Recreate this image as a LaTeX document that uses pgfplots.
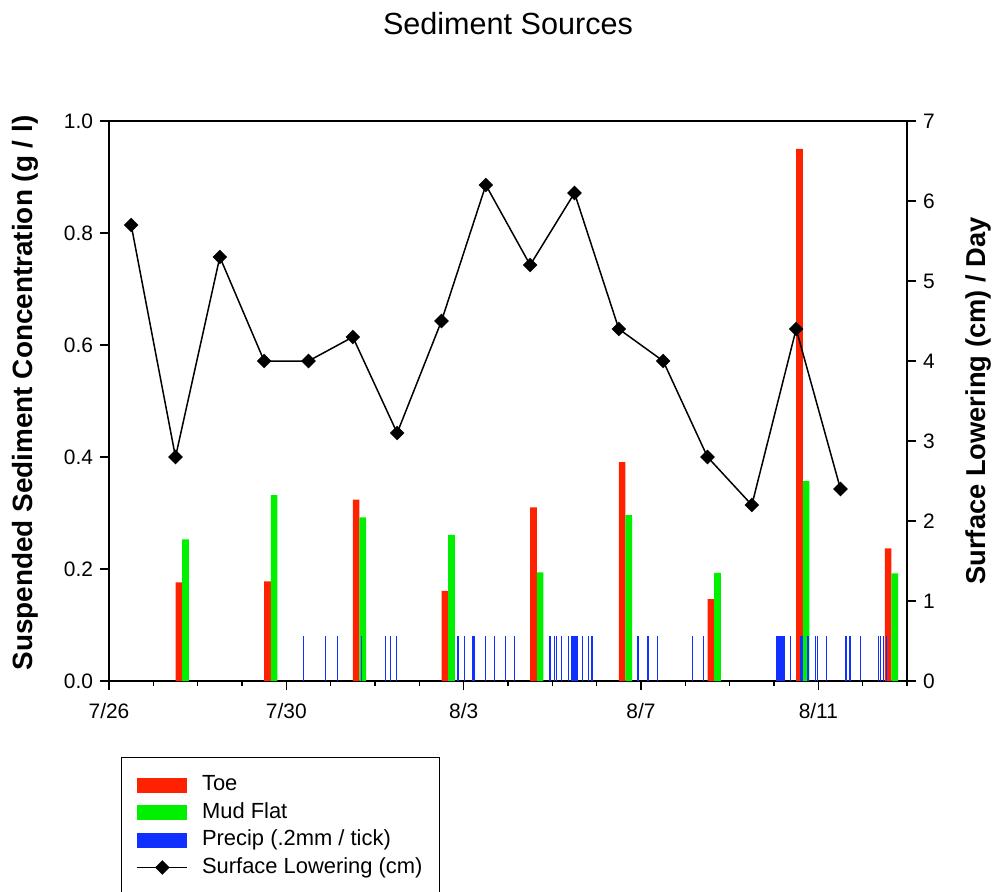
\documentclass[border=0pt]{standalone}
\usepackage{pgfplots}
\pgfplotsset{compat=1.18}
\usepackage{fontspec}
\setmainfont{Liberation Sans}
\definecolor{toered}{RGB}{255,34,0}
\definecolor{mudgreen}{RGB}{0,240,0}
\definecolor{precipblue}{RGB}{16,48,255}
\pgfplotsset{
  common/.style={
    at={(0,0)}, anchor=south west,
    scale only axis, width=399bp, height=280bp,
    xmin=0, xmax=18,
    tick align=outside,
    major tick length=4.5bp, minor tick length=2.7bp,
    every tick/.style={black, line width=0.7bp},
    axis line style={line width=0.8bp},
    /pgf/number format/assume math mode=true,
    tick label style={font=\fontsize{10.5}{12}\selectfont},
  },
  barleg/.style={legend image code/.code={\fill[##1, draw=none] (0bp,-3.75bp) rectangle (25bp,3.75bp);}},
  lineleg/.style={legend image code/.code={\draw[mark repeat=2,mark phase=2,##1] plot coordinates {(0bp,0bp) (12.5bp,0bp) (25bp,0bp)};}},
}
\begin{document}
\begin{tikzpicture}
\useasboundingbox (-54.5bp,-105.5bp) rectangle (442bp,340.5bp);
\begin{axis}[
  common,
  ymin=0, ymax=1,
  xtick={0,4,8,12,16},
  xticklabels={7/26,7/30,8/3,8/7,8/11},
  xticklabel style={yshift=-3bp},
  minor xtick={1,2,3,5,6,7,9,10,11,13,14,15,17,18},
  xtick pos=bottom, ytick pos=left,
  ytick={0,0.2,0.4,0.6,0.8,1.0},
  yticklabel style={/pgf/number format/.cd, fixed, fixed zerofill, precision=1},
  title={Sediment Sources},
  title style={at={(axis description cs:0.5,1)}, yshift=42.5bp, anchor=center, font=\fontsize{15.35}{18}\selectfont},
  ylabel={Suspended Sediment Concentration (g / l)},
  every axis y label/.style={at={([xshift=-42bp,yshift=4bp]axis description cs:0,0.5)}, rotate=90, anchor=center, font=\bfseries\fontsize{14}{16}\selectfont},
]
% Toe
\addplot[ybar, bar width=0.15, bar shift=0pt, fill=toered, draw=none] coordinates {
(1.575,0.176) (3.575,0.178) (5.575,0.324) (7.575,0.161) (9.575,0.310)
(11.575,0.391) (13.575,0.146) (15.575,0.950) (17.575,0.237)};
% Mud Flat
\addplot[ybar, bar width=0.15, bar shift=0pt, fill=mudgreen, draw=none] coordinates {
(1.725,0.253) (3.725,0.332) (5.725,0.292) (7.725,0.261) (9.725,0.194)
(11.725,0.296) (13.725,0.193) (15.725,0.357) (17.725,0.192)};
% Precip (.2mm / tick)
\addplot[ycomb, precipblue, line width=0.6bp, no markers] coordinates {
(4.392,0.08) (4.887,0.08) (5.158,0.08) (5.698,0.08) (6.239,0.08) (6.351,0.08) (6.480,0.08)
(7.872,0.08) (8.025,0.08) (8.209,0.08) (8.232,0.08) (8.491,0.08) (8.694,0.08) (8.948,0.08) (9.144,0.08)
(9.948,0.08) (10.045,0.08) (10.090,0.08) (10.203,0.08) (10.367,0.08) (10.444,0.08) (10.473,0.08)
(10.502,0.08) (10.534,0.08) (10.563,0.08) (10.682,0.08) (10.818,0.08) (10.894,0.08)
(11.930,0.08) (12.146,0.08) (12.162,0.08) (12.372,0.08)
(13.160,0.08) (13.417,0.08)
(15.056,0.08) (15.083,0.08) (15.113,0.08) (15.142,0.08) (15.169,0.08) (15.198,0.08) (15.225,0.08) (15.367,0.08)
(15.608,0.08) (15.638,0.08) (15.755,0.08) (15.773,0.08)
(15.939,0.08) (15.980,0.08) (16.178,0.08)
(16.622,0.08) (16.716,0.08) (16.959,0.08)
(17.365,0.08) (17.399,0.08) (17.471,0.08) (17.545,0.08)};
\end{axis}
\begin{axis}[
  common,
  ymin=0, ymax=7,
  axis x line=none, axis y line*=right,
  ytick={0,1,2,3,4,5,6,7},
  ylabel={Surface Lowering (cm) / Day},
  every axis y label/.style={at={([xshift=35.5bp]axis description cs:1,0.5)}, rotate=90, anchor=center, font=\bfseries\fontsize{13.7}{16}\selectfont},
  legend style={at={(axis description cs:0.015,-0.1357)}, anchor=north west,
    draw=black, line width=0.6bp, inner xsep=7.5bp, inner ysep=7bp,
    font=\fontsize{11}{13}\selectfont,
    nodes={inner xsep=1bp, inner ysep=1.5bp, text height=8.2bp, text depth=2.5bp},
    /tikz/every odd column/.style={column sep=6bp}},
  legend cell align=left,
]
\addlegendimage{barleg, fill=toered}
\addlegendentry{Toe}
\addlegendimage{barleg, fill=mudgreen}
\addlegendentry{Mud Flat}
\addlegendimage{barleg, fill=precipblue}
\addlegendentry{Precip (.2mm / tick)}
\addplot[lineleg, black, line width=0.75bp, mark=square*, mark size=2.2bp, mark options={rotate=45, solid}]
coordinates {
(0.5,5.7) (1.5,2.8) (2.5,5.3) (3.5,4.0) (4.5,4.0) (5.5,4.3) (6.5,3.1) (7.5,4.5) (8.5,6.2)
(9.5,5.2) (10.5,6.1) (11.5,4.4) (12.5,4.0) (13.5,2.8) (14.5,2.2) (15.5,4.4) (16.5,2.4)};
\addlegendentry{Surface Lowering (cm)}
\end{axis}
\end{tikzpicture}
\end{document}
